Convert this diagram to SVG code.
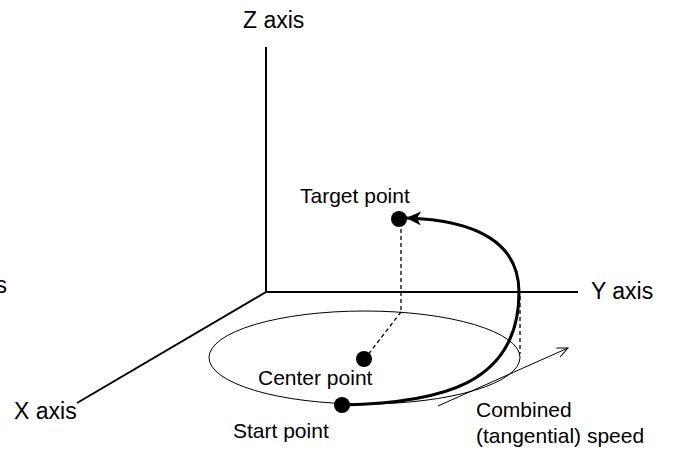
<svg xmlns="http://www.w3.org/2000/svg" width="673" height="450" viewBox="0 0 673 450">
<style>
text{font-family:"Liberation Sans",Arial,sans-serif;fill:#000}
.ax{font-size:23px}
.lb{font-size:21px}
.axis{stroke:#000;stroke-width:2;fill:none}
.thin{stroke:#000;stroke-width:1;fill:none}
.dash{stroke:#000;stroke-width:1.3;fill:none;stroke-dasharray:4 3}
.thick{stroke:#000;stroke-width:3;fill:none}
.dot{fill:#000}
</style>
<defs>
<marker id="stealth" markerUnits="userSpaceOnUse" markerWidth="16" markerHeight="14" refX="15" refY="7" orient="auto">
<path d="M0,0 L15,7 L0,14 L4,7 z" fill="#000"/>
</marker>
<marker id="open" markerUnits="userSpaceOnUse" markerWidth="12" markerHeight="10" refX="11" refY="5" orient="auto">
<path d="M0,0 L11,5 L0,10" fill="none" stroke="#000" stroke-width="1"/>
</marker>
</defs>
<g id="axes">
<line class="axis" x1="266" y1="47" x2="266" y2="292"/>
<line class="axis" x1="265" y1="292" x2="578" y2="292"/>
<line class="axis" x1="266" y1="292" x2="77" y2="403"/>
</g>
<g id="labels">
<text class="ax" x="243" y="28">Z axis</text>
<text class="ax" x="591" y="299">Y axis</text>
<text class="ax" x="14" y="419">X axis</text>
<text class="ax" x="7" y="293" text-anchor="end">s</text>
</g>
<g id="connectors">
<ellipse class="thin" cx="364.5" cy="357.5" rx="155.5" ry="46.5"/>
<line class="dash" x1="401" y1="222" x2="401" y2="312"/>
<line class="dash" x1="401" y1="312" x2="367" y2="356"/>
<line class="dash" x1="520" y1="296" x2="520" y2="354"/>
<path class="thick" d="M342 405 C440 403 519 385 519 292"/>
<path class="thick" d="M519 292 C519 245 480 220 406 218" marker-end="url(#stealth)"/>
<line class="thin" x1="438" y1="406" x2="568" y2="348" marker-end="url(#open)"/>
</g>
<g id="target-point">
<circle class="dot" cx="399" cy="219" r="8"/>
<text class="lb" x="300" y="203">Target point</text>
</g>
<g id="center-point">
<circle class="dot" cx="364" cy="359" r="8"/>
<text class="lb" x="258" y="385">Center point</text>
</g>
<g id="start-point">
<circle class="dot" cx="342" cy="405" r="8"/>
<text class="lb" x="233" y="438">Start point</text>
</g>
<g id="speed-label">
<text class="lb" x="476" y="417">Combined</text>
<text class="lb" x="476" y="443">(tangential) speed</text>
</g>
</svg>
